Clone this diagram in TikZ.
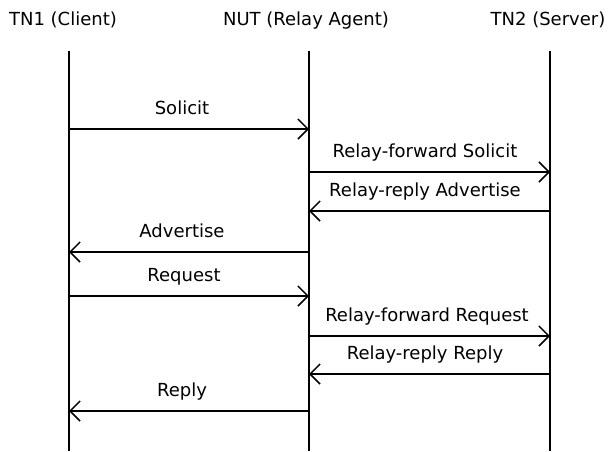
\documentclass[tikz,border=0pt]{standalone}
\usepackage{fontspec}
\setmainfont{DejaVu Sans}
\usetikzlibrary{arrows.meta}

\begin{document}
\begin{tikzpicture}[x=0.75pt, y=-0.75pt,
		>={Straight Barb[length=7.5pt,width=15pt,line width=1.1pt]},
		head_style/.style={font=\fontsize{13.5}{16}\selectfont, anchor=base, inner sep=0pt},
		label_style/.style={font=\fontsize{13.5}{16}\selectfont, anchor=base, inner sep=0pt},
		line_style/.style={draw=black, line width=1.1pt},
		msg_style/.style={draw=black, line width=1.1pt, ->}]

		\useasboundingbox (0,0) rectangle (613,451);

		% headers
		\node[head_style] (tn1) at (63,25)  {TN1 (Client)};
		\node[head_style] (nut) at (306,25) {NUT (Relay Agent)};
		\node[head_style] (tn2) at (548,25) {TN2 (Server)};

		% lifelines
		\coordinate (l1) at (69,51);  \coordinate (l1e) at (69,451);
		\coordinate (l2) at (309,51); \coordinate (l2e) at (309,451);
		\coordinate (l3) at (550,51); \coordinate (l3e) at (550,451);

		\draw[line_style] (l1) -- (l1e);
		\draw[line_style] (l2) -- (l2e);
		\draw[line_style] (l3) -- (l3e);

		% message end points
		\coordinate (a1) at (69,129);  \coordinate (b1) at (309,129);
		\coordinate (b2) at (309,172); \coordinate (c2) at (550,172);
		\coordinate (c3) at (550,211); \coordinate (b3) at (309,211);
		\coordinate (b4) at (309,252); \coordinate (a4) at (69,252);
		\coordinate (a5) at (69,296);  \coordinate (b5) at (309,296);
		\coordinate (b6) at (309,336); \coordinate (c6) at (550,336);
		\coordinate (c7) at (550,374); \coordinate (b7) at (309,374);
		\coordinate (b8) at (309,411); \coordinate (a8) at (69,411);

		% labels
		\node[label_style] (m1) at (182,114) {Solicit};
		\node[label_style] (m2) at (425,157) {Relay-forward Solicit};
		\node[label_style] (m3) at (425,196) {Relay-reply Advertise};
		\node[label_style] (m4) at (182,237) {Advertise};
		\node[label_style] (m5) at (184,281) {Request};
		\node[label_style] (m6) at (427,321) {Relay-forward Request};
		\node[label_style] (m7) at (425,359) {Relay-reply Reply};
		\node[label_style] (m8) at (182,396) {Reply};

		% messages
		\draw[msg_style] (a1) -- (b1);
		\draw[msg_style] (b2) -- (c2);
		\draw[msg_style] (c3) -- (b3);
		\draw[msg_style] (b4) -- (a4);
		\draw[msg_style] (a5) -- (b5);
		\draw[msg_style] (b6) -- (c6);
		\draw[msg_style] (c7) -- (b7);
		\draw[msg_style] (b8) -- (a8);

\end{tikzpicture}
\end{document}
